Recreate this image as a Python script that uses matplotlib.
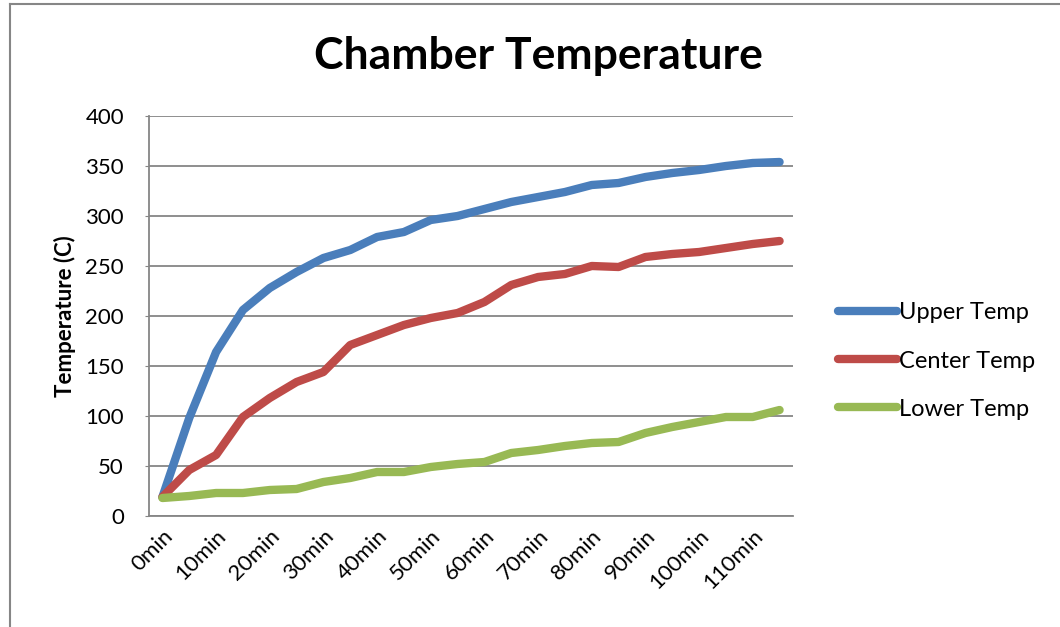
import matplotlib
matplotlib.use("Agg")
import matplotlib.pyplot as plt
from matplotlib.lines import Line2D

plt.rcParams['font.family'] = ['Lato', 'DejaVu Sans']

# readings every 5 minutes
minutes = list(range(0, 120, 5))
categories = [f"{m}min" for m in minutes]

upper_temp = [19, 98, 164, 206, 228, 244, 258, 266, 279, 284, 296, 300,
              307, 314, 319, 324, 331, 333, 339, 343, 346, 350, 353, 354]
center_temp = [19, 46, 61, 99, 118, 134, 144, 171, 181, 191, 198, 203,
               214, 231, 239, 242, 250, 249, 259, 262, 264, 268, 272, 275]
lower_temp = [18, 20, 23, 23, 26, 27, 34, 38, 44, 44, 49, 52,
              54, 63, 66, 70, 73, 74, 83, 89, 94, 99, 99, 106]

series = [
    ("Upper Temp", upper_temp, "#4A7EBB"),
    ("Center Temp", center_temp, "#BE4B48"),
    ("Lower Temp", lower_temp, "#98B954"),
]

W, H = 1060, 627
fig = plt.figure(figsize=(W / 100, H / 100), dpi=100)
ax = fig.add_axes([149 / W, (H - 516) / H, 644 / W, 400 / H])

x = list(range(len(categories)))
for name, vals, color in series:
    ax.plot(x, vals, color=color, lw=6, label=name,
            solid_capstyle="round", solid_joinstyle="round", zorder=3)

ax.set_xlim(-0.5, len(categories) - 0.5)
ax.set_ylim(0, 400)
ax.set_yticks(range(0, 401, 50))
ax.set_xticks(x[::2])
ax.set_xticklabels(categories[::2], rotation=45, ha="right",
                   rotation_mode="anchor", fontsize=16)
ax.tick_params(axis="y", labelsize=16, length=3, color="#868686", pad=15)
ax.tick_params(axis="x", length=0, pad=7)

ax.grid(axis="y", color="#868686", lw=1.3, zorder=1)
for side in ("top", "right"):
    ax.spines[side].set_visible(False)
for side in ("left", "bottom"):
    ax.spines[side].set_color("#868686")
    ax.spines[side].set_linewidth(1.3)

ax.set_ylabel("Temperature (C)", fontsize=16, fontweight="bold", labelpad=7)
fig.text(538 / W, 1 - 56 / H, "Chamber Temperature", fontsize=32,
         fontweight="bold", ha="center", va="center")

ax.legend(loc="center left", bbox_to_anchor=(817 / W, 1 - 361 / H),
          bbox_transform=fig.transFigure, frameon=False, fontsize=17,
          handlelength=2.5, handletextpad=0.08, labelspacing=1.15)

# chart border (left and top edges)
fig.add_artist(Line2D([10 / W, 10 / W], [0, 1 - 4 / H], color="#868686",
                      lw=1.5, transform=fig.transFigure))
fig.add_artist(Line2D([10 / W, 1], [1 - 4 / H, 1 - 4 / H], color="#868686",
                      lw=1.5, transform=fig.transFigure))

fig.savefig("out.png", dpi=100)
